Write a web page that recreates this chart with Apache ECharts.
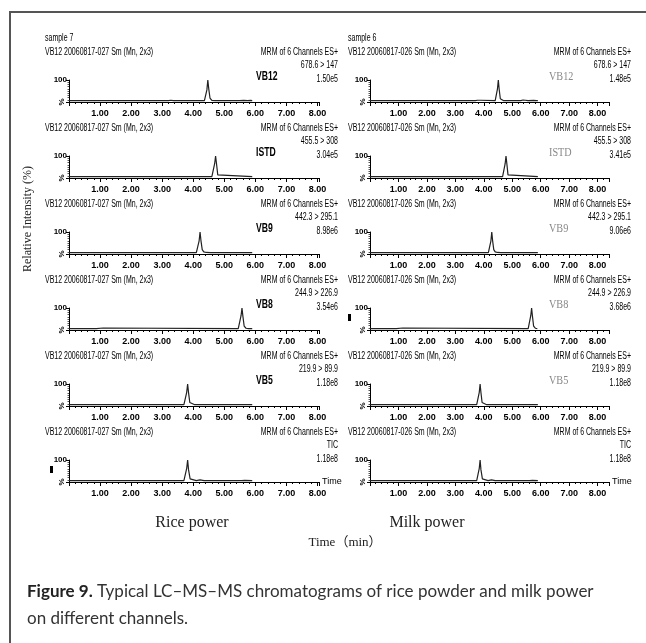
<!DOCTYPE html>
<html>
<head>
<meta charset="utf-8">
<script src="https://cdn.jsdelivr.net/npm/echarts@6.0.0/dist/echarts.min.js"></script>
<style>
  html, body { margin: 0; background: #fff; }
  #chart { width: 646px; height: 643px; }
</style>
</head>
<body>
<div id="chart"></div>
<script>
// channel rows, top to bottom
const channels = ['VB12', 'ISTD', 'VB9', 'VB8', 'VB5', 'TIC'];
const compoundLabels = ['VB12', 'ISTD', 'VB9', 'VB8', 'VB5', ''];
const transitions = ['678.6 > 147', '455.5 > 308', '442.3 > 295.1', '244.9 > 226.9', '219.9 > 89.9', 'TIC'];
const riceIntensity = ['1.50e5', '3.04e5', '8.98e6', '3.54e6', '1.18e8', '1.18e8'];
const milkIntensity = ['1.48e5', '3.41e5', '9.06e6', '3.68e6', '1.18e8', '1.18e8'];
const timeTicks = ['1.00', '2.00', '3.00', '4.00', '5.00', '6.00', '7.00', '8.00'];

// traces [time (min), relative intensity (%)]
const riceVB12 = [[0, 6], [3.2, 6], [3.28, 8], [3.36, 6], [3.6, 6], [3.66, 8], [3.72, 6], [3.78, 7], [3.85, 6], [4.36, 6], [4.41, 12], [4.44, 55], [4.47, 100], [4.5, 60], [4.54, 18], [4.6, 7], [4.7, 6], [5.5, 6], [5.55, 9], [5.62, 7], [5.68, 8], [5.75, 6], [5.85, 7], [5.9, 6]];
const riceISTD = [[0, 6], [4.6, 6], [4.65, 14], [4.69, 65], [4.72, 100], [4.75, 65], [4.79, 14], [4.84, 6], [5.9, 6]];
const riceVB9 = [[0, 6], [4.1, 6], [4.15, 14], [4.19, 60], [4.22, 100], [4.25, 60], [4.29, 20], [4.34, 10], [4.42, 7], [4.55, 6], [5.9, 6]];
const riceVB8 = [[0, 6], [0.88, 6], [0.9, 9], [1.1, 9], [1.12, 6], [5.45, 6], [5.5, 15], [5.54, 65], [5.57, 100], [5.6, 62], [5.64, 18], [5.7, 8], [5.78, 6], [5.9, 6]];
const riceVB5 = [[0, 6], [3.7, 6], [3.75, 14], [3.79, 62], [3.82, 100], [3.85, 60], [3.89, 16], [3.95, 7], [4.05, 6], [5.9, 6]];
const riceTIC = [[0, 6], [1.15, 6], [1.2, 9], [1.26, 6], [1.32, 9], [1.38, 6], [3.7, 6], [3.75, 14], [3.79, 62], [3.82, 100], [3.85, 55], [3.9, 14], [3.96, 7], [4.1, 6], [4.16, 9], [4.22, 10], [4.28, 7], [4.35, 6], [5.55, 6], [5.6, 9], [5.66, 7], [5.72, 6], [5.9, 6]];

const milkVB12 = [[0, 6], [1.0, 6], [1.05, 10], [1.1, 6], [3.7, 6], [3.78, 8], [3.88, 8], [3.95, 6], [4.4, 6], [4.45, 14], [4.48, 60], [4.51, 100], [4.54, 58], [4.58, 15], [4.64, 7], [4.7, 6], [5.3, 6], [5.38, 9], [5.46, 8], [5.55, 6], [5.75, 7], [5.85, 6], [5.9, 6]];
const milkISTD = [[0, 6], [4.66, 6], [4.71, 14], [4.75, 65], [4.78, 100], [4.81, 65], [4.85, 14], [4.9, 6], [5.9, 6]];
const milkVB9 = [[0, 6], [4.16, 6], [4.21, 14], [4.25, 60], [4.28, 100], [4.31, 60], [4.35, 20], [4.4, 10], [4.48, 7], [4.6, 6], [5.9, 6]];
const milkVB8 = [[0, 6], [0.92, 6], [0.95, 9], [1.15, 9], [1.18, 6], [5.56, 6], [5.61, 15], [5.65, 65], [5.68, 100], [5.71, 62], [5.75, 18], [5.81, 8], [5.88, 6], [5.9, 6]];
const milkVB5 = [[0, 6], [3.75, 6], [3.8, 14], [3.84, 62], [3.87, 100], [3.9, 60], [3.94, 16], [4.0, 7], [4.1, 6], [5.9, 6]];
const milkTIC = [[0, 6], [1.15, 6], [1.2, 9], [1.26, 6], [1.32, 9], [1.38, 6], [3.75, 6], [3.8, 14], [3.84, 62], [3.87, 100], [3.9, 55], [3.95, 14], [4.01, 7], [4.15, 6], [4.21, 9], [4.27, 10], [4.33, 7], [4.4, 6], [5.6, 6], [5.65, 9], [5.71, 7], [5.77, 6], [5.9, 6]];

const riceTraces = [riceVB12, riceISTD, riceVB9, riceVB8, riceVB5, riceTIC];
const milkTraces = [milkVB12, milkISTD, milkVB9, milkVB8, milkVB5, milkTIC];

// column layout
const columns = [
  { sample: 'sample 7', header: 'VB12 20060817-027 Sm (Mn, 2x3)', traces: riceTraces, intensity: riceIntensity,
    axisLeft: 69, axisWidth: 250, max: 8.05, textLeft: 45, textRight: 338, nameX: 256,
    nameColor: '#000', nameFont: 'Liberation Sans', nameWeight: 'bold', nameScale: 0.72 },
  { sample: 'sample 6', header: 'VB12 20060817-026 Sm (Mn, 2x3)', traces: milkTraces, intensity: milkIntensity,
    axisLeft: 370, axisWidth: 239, max: 8.4, textLeft: 348, textRight: 631, nameX: 549,
    nameColor: '#888', nameFont: 'Liberation Serif', nameWeight: 'normal', nameScale: 0.85 }
];

const ROW0 = 52;     // header line of the first row
const PITCH = 76;
const PLOT_H = 22;
const smallFont = 'Liberation Sans';
const NARROW = 0.7;  // the instrument font is very condensed

const grids = [], xAxes = [], yAxes = [], series = [], graphics = [];

function txt(x, y, text, o) {
  o = o || {};
  graphics.push({
    type: 'text', x: x, y: y, rotation: o.rotation || 0, silent: true,
    scaleX: o.scaleX || 1,
    style: {
      text: text, fill: o.color || '#000', fontSize: o.size || 9,
      fontFamily: o.family || smallFont, fontWeight: o.weight || 'normal',
      align: o.align || 'left', verticalAlign: 'middle', rich: o.rich
    }
  });
}

columns.forEach(function (col, c) {
  txt(col.textLeft, ROW0 - 14, col.sample, { size: 10, scaleX: NARROW });
  channels.forEach(function (ch, r) {
    const i = c * channels.length + r;
    const head = ROW0 + PITCH * r;
    const top = head + 28;
    grids.push({ left: col.axisLeft, top: top, width: col.axisWidth, height: PLOT_H });
    xAxes.push({
      gridIndex: i, type: 'value', min: 0, max: col.max, interval: 1,
      name: ch === 'TIC' ? 'Time' : '', nameLocation: 'end', nameGap: 3,
      nameTextStyle: { fontSize: 9, fontFamily: smallFont, color: '#000' },
      axisLine: { lineStyle: { color: '#000', width: 1 } },
      axisTick: { length: 4, lineStyle: { color: '#000' } },
      minorTick: { show: true, splitNumber: 5, length: 2, lineStyle: { color: '#000' } },
      splitLine: { show: false },
      axisLabel: {
        margin: 7, fontSize: 9, fontFamily: smallFont, fontWeight: 'bold', color: '#000',
        formatter: function (v) { return Number.isInteger(v) && v > 0 ? (timeTicks[v - 1] || '') : ''; }
      }
    });
    yAxes.push({
      gridIndex: i, type: 'value', min: 0, max: 100, interval: 100,
      axisLine: { show: true, lineStyle: { color: '#000', width: 1 } },
      axisTick: { show: true, length: 3, lineStyle: { color: '#000' } },
      minorTick: { show: true, splitNumber: 10, length: 1.5, lineStyle: { color: '#555' } },
      splitLine: { show: false },
      axisLabel: {
        margin: 2, fontSize: 8, fontFamily: smallFont, fontWeight: 'bold', color: '#000',
        formatter: function (v) { return v === 100 ? '100' : ''; }
      }
    });
    series.push({
      type: 'line', xAxisIndex: i, yAxisIndex: i, data: col.traces[r],
      showSymbol: false, silent: true, lineStyle: { color: '#222', width: 1.2 }
    });

    txt(col.textLeft, head, col.header, { size: 10, scaleX: NARROW });
    txt(col.textRight, head, 'MRM of 6 Channels ES+', { size: 10, align: 'right', scaleX: NARROW });
    txt(col.textRight, head + 13, transitions[r], { size: 10, align: 'right', scaleX: NARROW });
    txt(col.textRight, head + 27, col.intensity[r], { size: 10, align: 'right', scaleX: NARROW });
    if (compoundLabels[r]) {
      txt(col.nameX, head + 25, compoundLabels[r], { size: 12, family: col.nameFont, weight: col.nameWeight, color: col.nameColor, scaleX: col.nameScale });
    }
    txt(col.axisLeft - 7, top + PLOT_H, '%', { size: 8, weight: 'bold', rotation: Math.PI / 2, align: 'center' });
  });
});

// little black markers beside two of the traces
graphics.push({ type: 'rect', silent: true, shape: { x: 348, y: ROW0 + PITCH * 3 + 34, width: 3, height: 7 }, style: { fill: '#000' } });
graphics.push({ type: 'rect', silent: true, shape: { x: 50, y: ROW0 + PITCH * 5 + 34, width: 3, height: 7 }, style: { fill: '#000' } });

// frame
graphics.push({ type: 'polyline', silent: true, shape: { points: [[10, 643], [10, 12], [646, 12]] }, style: { stroke: '#555', lineWidth: 2, fill: null } });

// axis titles and sample names
txt(28, 219, 'Relative Intensity (%)', { size: 12, family: 'Liberation Serif', rotation: Math.PI / 2, align: 'center', color: '#222' });
txt(192, 523, 'Rice power', { size: 16, family: 'Liberation Serif', align: 'center', color: '#222' });
txt(427, 523, 'Milk power', { size: 16, family: 'Liberation Serif', align: 'center', color: '#222' });
txt(345, 543, 'Time（min）', { size: 13, family: 'Liberation Serif, Noto Sans CJK SC', align: 'center', color: '#222' });

// caption
txt(27, 592, '{b|Figure 9.} Typical LC–MS–MS chromatograms of rice powder and milk power', {
  size: 17, family: 'Lato', color: '#333',
  rich: { b: { fontWeight: 'bold', fontSize: 17, fontFamily: 'Lato', fill: '#222' } }
});
txt(27, 619, 'on different channels.', { size: 17, family: 'Lato', color: '#333' });

const chart = echarts.init(document.getElementById('chart'));
chart.setOption({
  animation: false,
  backgroundColor: '#fff',
  grid: grids,
  xAxis: xAxes,
  yAxis: yAxes,
  series: series,
  graphic: graphics
});
</script>
</body>
</html>
